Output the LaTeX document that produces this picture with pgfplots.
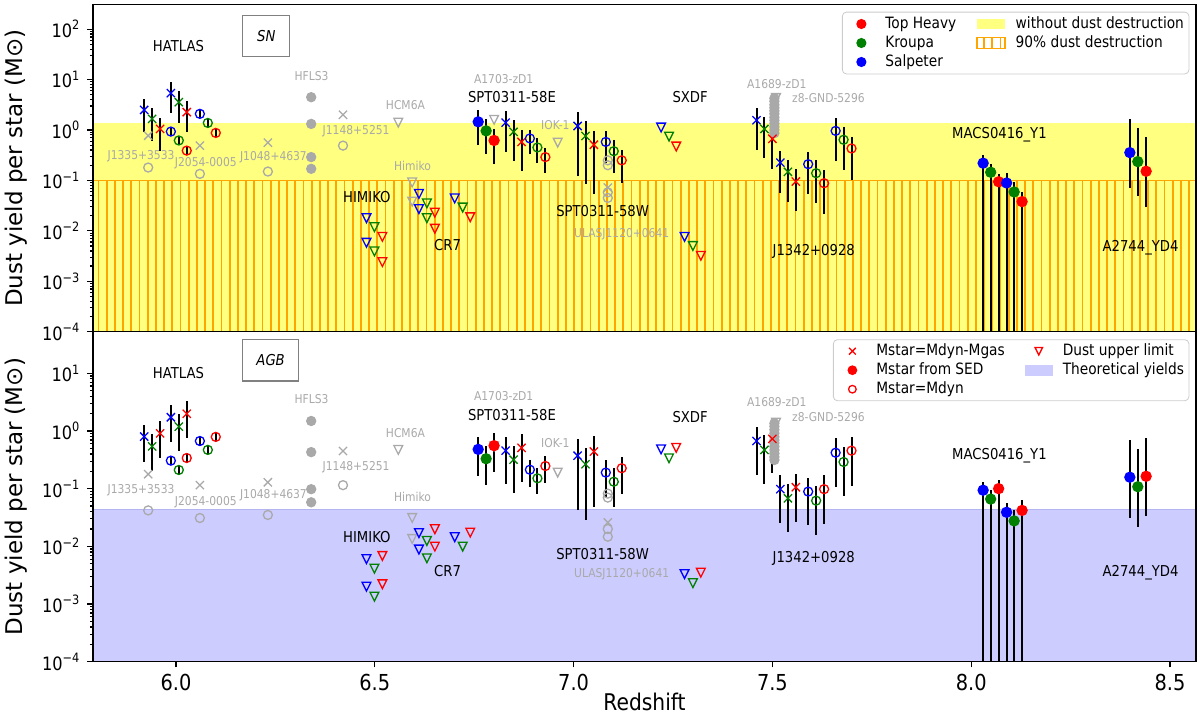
\documentclass[border=0pt]{standalone}
\usepackage{fontspec}
\setmainfont{DejaVu Sans}[FakeStretch=0.88]
\newfontfamily\ylfont{DejaVu Sans}
\usepackage{pgfplots}
\usepackage{pgfplotstable}
\pgfplotsset{compat=1.18}
\usetikzlibrary{patterns.meta}

\definecolor{mplgreen}{HTML}{008000}
\definecolor{mplgray}{HTML}{A9A9A9}
\definecolor{fillyellow}{HTML}{FFFF80}
\definecolor{hatchorange}{HTML}{FFA500}
\definecolor{theoblue}{HTML}{CCCCFF}
\definecolor{theoedge}{HTML}{B4B4F2}

% downward open triangle, like matplotlib 'v'
\pgfdeclareplotmark{tridown}{%
  \pgfpathmoveto{\pgfqpoint{0pt}{-\pgfplotmarksize}}%
  \pgfpathlineto{\pgfqpoint{\pgfplotmarksize}{\pgfplotmarksize}}%
  \pgfpathlineto{\pgfqpoint{-\pgfplotmarksize}{\pgfplotmarksize}}%
  \pgfpathclose\pgfusepathqstroke}

\tikzset{
  hatchy/.style={pattern={Lines[angle=90,distance=4.1pt,line width=0.9pt]}, pattern color=hatchorange},
  dlab/.style={font=\fontsize{7.5}{9}\selectfont, inner sep=0pt},
  dglab/.style={font=\fontsize{6.1}{7}\selectfont, text=mplgray, inner sep=0pt},
}
\newcommand\legmark[1]{\path[draw=none, fill=none] (0pt,-2.7pt) rectangle (14pt,2.7pt); \draw[only marks, mark options={line width=0.65pt}, #1] plot coordinates {(7pt,0pt)};}
\newcommand\legpatch[1]{\path[sharp corners, draw=none, #1] (0pt,-2.65pt) rectangle (14pt,2.65pt);}
\newcommand\yfont{\fontsize{9.2}{10}\selectfont}

\pgfplotsset{
  dustpts/.style={scatter, only marks, scatter src=explicit symbolic,
    mark options={line width=0.65pt},
    scatter/classes={
      bx={mark=x,blue,mark size=2.9pt}, gx={mark=x,mplgreen,mark size=2.9pt}, rx={mark=x,red,mark size=2.9pt},
      bf={mark=*,blue,mark size=2.5pt}, gf={mark=*,mplgreen,mark size=2.5pt}, rf={mark=*,red,mark size=2.5pt},
      bo={mark=o,blue,mark size=2.25pt}, go={mark=o,mplgreen,mark size=2.25pt}, ro={mark=o,red,mark size=2.25pt},
      bt={mark=tridown,blue,mark size=2.2pt}, gt={mark=tridown,mplgreen,mark size=2.2pt}, rt={mark=tridown,red,mark size=2.2pt},
      kx={mark=x,mplgray,mark size=2.9pt}, ko={mark=o,mplgray,mark size=2.25pt},
      kf={mark=*,mplgray,mark size=2.25pt}, kt={mark=tridown,mplgray,mark size=2.2pt}},
    error bars/y dir=both, error bars/y explicit, error bars/error mark=none,
    error bars/error bar style={black, line width=1pt}},
}

% top panel (SN): x y lo hi class
\pgfplotstableread{
x y lo hi c
5.920 2.5 0.9 4.1 bx
5.940 1.66 0.61 2.7 gx
5.960 1.05 0.385 1.76 rx
5.987 5.37 2.15 8.9 bx
6.007 3.56 1.4 5.96 gx
6.027 2.26 0.9 3.78 rx
5.987 0.93 0.775 1.116 bo
6.007 0.62 0.517 0.744 go
6.027 0.39 0.325 0.468 ro
6.060 2.09 1.74 2.51 bo
6.080 1.38 1.15 1.66 go
6.100 0.875 0.73 1.05 ro
6.479 0.0178 0.0178 0.0178 bt
6.499 0.0118 0.0118 0.0118 gt
6.519 0.0076 0.0076 0.0076 rt
6.479 0.0058 0.0058 0.0058 bt
6.499 0.0039 0.0039 0.0039 gt
6.519 0.0024 0.0024 0.0024 rt
6.611 0.054 0.054 0.054 bt
6.631 0.035 0.035 0.035 gt
6.651 0.023 0.023 0.023 rt
6.611 0.027 0.027 0.027 bt
6.631 0.0178 0.0178 0.0178 gt
6.651 0.011 0.011 0.011 rt
6.701 0.044 0.044 0.044 bt
6.721 0.029 0.029 0.029 gt
6.740 0.0186 0.0186 0.0186 rt
6.760 1.45 0.5 2.5 bf
6.780 0.96 0.33 1.66 gf
6.800 0.62 0.21 1.04 rf
6.829 1.40 0.36 2.4 bx
6.849 0.92 0.24 1.6 gx
6.869 0.58 0.154 1.0 rx
6.890 0.68 0.34 1.0 bo
6.909 0.45 0.22 0.69 go
6.929 0.29 0.14 0.44 ro
7.010 1.2 0.125 2.25 bx
7.030 0.76 0.084 1.5 gx
7.051 0.51 0.053 0.96 rx
7.081 0.58 0.22 0.96 bo
7.101 0.38 0.14 0.64 go
7.121 0.25 0.09 0.40 ro
7.220 1.12 1.12 1.12 bt
7.240 0.74 0.74 0.74 gt
7.258 0.47 0.47 0.47 rt
7.279 0.0076 0.0076 0.0076 bt
7.300 0.005 0.005 0.005 gt
7.320 0.0032 0.0032 0.0032 rt
7.460 1.56 0.40 2.7 bx
7.480 1.05 0.275 1.85 gx
7.500 0.67 0.17 1.2 rx
7.520 0.225 0.057 0.385 bx
7.539 0.148 0.037 0.255 gx
7.559 0.095 0.0244 0.166 rx
7.590 0.21 0.053 0.37 bo
7.610 0.139 0.035 0.25 go
7.630 0.088 0.022 0.16 ro
7.659 0.96 0.24 1.76 bo
7.679 0.64 0.16 1.17 go
7.699 0.43 0.10 0.74 ro
8.030 0.22 1e-6 0.32 bf
8.049 0.145 1e-6 0.21 gf
8.069 0.094 1e-6 0.135 rf
8.089 0.089 1e-6 0.139 bf
8.108 0.059 1e-6 0.093 gf
8.128 0.038 1e-6 0.059 rf
8.399 0.356 0.072 1.66 bf
8.419 0.236 0.048 1.12 gf
8.440 0.152 0.030 0.72 rf
}\topdata

% top panel, literature sources in grey
\pgfplotstableread{
x y c
5.930 0.77 kx
5.930 0.18 ko
6.060 0.49 kx
6.060 0.135 ko
6.231 0.56 kx
6.231 0.15 ko
6.340 4.47 kf
6.340 1.32 kf
6.340 0.29 kf
6.340 0.17 kf
6.420 2.0 kx
6.420 0.49 ko
6.559 1.40 kt
6.594 0.091 kt
6.594 0.038 kt
6.800 1.59 kt
6.960 0.56 kt
7.086 0.25 ko
7.086 0.20 ko
7.086 0.072 kx
7.086 0.058 ko
7.086 0.045 ko
7.505 0.865 kf
7.505 1.0 kf
7.505 1.156 kf
7.505 1.34 kf
7.505 1.55 kf
7.505 1.78 kf
7.505 2.09 kf
7.505 2.4 kf
7.505 2.75 kf
7.505 3.16 kf
7.505 3.72 kf
7.505 4.27 kf
7.509 4.3 kt
}\topgray

% bottom panel (AGB)
\pgfplotstableread{
x y lo hi c
5.920 0.80 0.29 1.27 bx
5.940 0.54 0.20 0.88 gx
5.960 0.91 0.34 1.49 rx
5.987 1.73 0.65 2.79 bx
6.007 1.19 0.456 1.95 gx
6.027 1.99 0.765 3.27 rx
5.987 0.306 0.255 0.367 bo
6.007 0.211 0.176 0.253 go
6.027 0.34 0.283 0.408 ro
6.060 0.67 0.558 0.804 bo
6.080 0.47 0.392 0.564 go
6.100 0.79 0.658 0.948 ro
6.479 0.0060 0.0060 0.0060 bt
6.499 0.0041 0.0041 0.0041 gt
6.519 0.0068 0.0068 0.0068 rt
6.479 0.0020 0.0020 0.0020 bt
6.499 0.00134 0.00134 0.00134 gt
6.519 0.0022 0.0022 0.0022 rt
6.611 0.017 0.017 0.017 bt
6.631 0.0124 0.0124 0.0124 gt
6.651 0.0198 0.0198 0.0198 rt
6.611 0.0088 0.0088 0.0088 bt
6.631 0.0062 0.0062 0.0062 gt
6.651 0.0099 0.0099 0.0099 rt
6.701 0.0144 0.0144 0.0144 bt
6.721 0.0099 0.0099 0.0099 gt
6.740 0.0173 0.0173 0.0173 rt
6.760 0.48 0.166 0.80 bf
6.780 0.33 0.116 0.556 gf
6.800 0.556 0.197 0.91 rf
6.829 0.456 0.121 0.80 bx
6.849 0.318 0.085 0.556 gx
6.869 0.51 0.132 0.887 rx
6.890 0.213 0.106 0.32 bo
6.909 0.151 0.08 0.225 go
6.929 0.247 0.127 0.37 ro
7.010 0.373 0.042 0.73 bx
7.030 0.265 0.029 0.50 gx
7.051 0.44 0.048 0.82 rx
7.081 0.19 0.071 0.32 bo
7.101 0.132 0.049 0.226 go
7.121 0.226 0.081 0.36 ro
7.220 0.48 0.48 0.48 bt
7.240 0.336 0.336 0.336 gt
7.258 0.51 0.51 0.51 rt
7.279 0.0033 0.0033 0.0033 bt
7.300 0.0023 0.0023 0.0023 gt
7.320 0.0035 0.0035 0.0035 rt
7.460 0.67 0.17 1.16 bx
7.480 0.47 0.12 0.84 gx
7.500 0.73 0.185 1.27 rx
7.520 0.098 0.025 0.173 bx
7.539 0.068 0.0175 0.12 gx
7.559 0.106 0.026 0.18 rx
7.590 0.089 0.023 0.155 bo
7.610 0.062 0.016 0.111 go
7.630 0.098 0.024 0.17 ro
7.659 0.42 0.108 0.76 bo
7.679 0.29 0.076 0.53 go
7.699 0.456 0.113 0.79 ro
8.030 0.094 1e-6 0.133 bf
8.049 0.066 1e-6 0.093 gf
8.069 0.10 1e-6 0.143 rf
8.089 0.039 1e-6 0.057 bf
8.108 0.0276 1e-6 0.042 gf
8.128 0.042 1e-6 0.063 rf
8.399 0.158 0.031 0.70 bf
8.419 0.108 0.022 0.49 gf
8.440 0.164 0.034 0.75 rf
}\botdata

\pgfplotstableread{
x y c
5.930 0.178 kx
5.930 0.042 ko
6.060 0.115 kx
6.060 0.031 ko
6.231 0.129 kx
6.231 0.035 ko
6.340 1.49 kf
6.340 0.43 kf
6.340 0.098 kf
6.340 0.058 kf
6.420 0.45 kx
6.420 0.115 ko
6.559 0.47 kt
6.594 0.031 kt
6.594 0.0134 kt
6.800 0.54 kt
6.960 0.19 kt
7.086 0.082 ko
7.086 0.070 ko
7.086 0.026 kx
7.086 0.020 ko
7.086 0.0147 ko
7.505 0.314 kf
7.505 0.355 kf
7.505 0.407 kf
7.505 0.468 kf
7.505 0.537 kf
7.505 0.617 kf
7.505 0.692 kf
7.505 0.794 kf
7.505 0.912 kf
7.505 1.047 kf
7.505 1.202 kf
7.505 1.36 kf
7.509 1.39 kt
}\botgray

\begin{document}
\begin{tikzpicture}
\path[use as bounding box] (-46.5pt,-26.15pt) rectangle (553.5pt,330.85pt);

% ---------------- top: SN ----------------
\begin{axis}[at={(0,165pt)}, anchor=south west,
  scale only axis, width=551.5pt, height=163.5pt,
  xmin=5.7912, xmax=8.5654, ymode=log, ymin=1e-4, ymax=305,
  tick align=outside, xtick pos=bottom, ytick pos=left, axis on top,
  axis line style={line width=0.7pt},
  major tick length=2.8pt, minor tick length=1.6pt, tick style={line width=0.6pt, black},
  xtick=\empty,
  ytick={1e-4,1e-3,1e-2,1e-1,1,10,100},
  yticklabels={10\textsuperscript{−4},10\textsuperscript{−3},10\textsuperscript{−2},10\textsuperscript{−1},10\textsuperscript{0},10\textsuperscript{1},10\textsuperscript{2}},
  yticklabel style={font=\yfont},
  ylabel={{\ylfont\fontsize{11.5}{12}\selectfont Dust yield per star (M⊙)}},
  ylabel style={at={(axis description cs:-0.0698,0.5)}, anchor=center},
  legend columns=2, legend cell align=left,
  legend style={at={(1,1)}, anchor=north east, xshift=-3.35pt, yshift=-3.5pt,
    draw=black!20, rounded corners=2pt, fill=white,
    font=\fontsize{7.8}{9}\selectfont, inner xsep=2.5pt, inner ysep=1.2pt,
    row sep=0pt, column sep=5pt,
    /tikz/every even column/.append style={column sep=10pt},
    nodes={inner xsep=0pt, inner ysep=0.5pt, text height=6.5pt, text depth=2pt}}]
\addplot[draw=none, fill=fillyellow, forget plot] coordinates {(5.7,1e-5) (8.7,1e-5) (8.7,1.37) (5.7,1.37)};
\addplot[draw=none, hatchy, forget plot] coordinates {(5.7,1e-5) (8.7,1e-5) (8.7,0.1) (5.7,0.1)};
\addplot[hatchorange, line width=0.7pt, forget plot] coordinates {(5.7,0.1) (8.7,0.1)};
\addplot[dustpts, forget plot] table[x=x, y=y, meta=c] {\topgray};
\addplot[dustpts, forget plot] table[x=x, y=y, meta=c,
  y error plus expr=\thisrow{hi}-\thisrow{y}, y error minus expr=\thisrow{y}-\thisrow{lo}] {\topdata};

\node[dlab] at (axis cs:6.006,45.2) {HATLAS};
\node[draw=gray, line width=0.6pt, fill=white, minimum width=23.5pt, minimum height=20.5pt, inner sep=0pt,
  font=\fontsize{7.5}{9}\selectfont\itshape] at (axis cs:6.227,73) {SN};
\node[dglab] at (axis cs:6.341,12.0) {HFLS3};
\node[dglab] at (axis cs:5.912,0.296) {J1335+3533};
\node[dglab] at (axis cs:6.075,0.219) {J2054-0005};
\node[dglab] at (axis cs:6.245,0.289) {J1048+4637};
\node[dglab] at (axis cs:6.453,0.96) {J1148+5251};
\node[dlab] at (axis cs:6.480,0.0477) {HIMIKO};
\node[dglab] at (axis cs:6.577,3.1) {HCM6A};
\node[dglab] at (axis cs:6.595,0.191) {Himiko};
\node[dlab] at (axis cs:6.683,0.0052) {CR7};
\node[dglab] at (axis cs:6.824,10.2) {A1703-zD1};
\node[dlab] at (axis cs:6.845,4.6) {SPT0311-58E};
\node[dglab] at (axis cs:6.954,1.245) {IOK-1};
\node[dlab] at (axis cs:7.073,0.0251) {SPT0311-58W};
\node[dglab] at (axis cs:7.121,0.0085) {ULASJ1120+0641};
\node[dlab] at (axis cs:7.293,4.4) {SXDF};
\node[dglab] at (axis cs:7.511,8.1) {A1689-zD1};
\node[dglab] at (axis cs:7.641,4.2) {z8-GND-5296};
\node[dlab] at (axis cs:7.604,0.0039) {J1342+0928};
\node[dlab] at (axis cs:8.071,0.80) {MACS0416\_Y1};
\node[dlab] at (axis cs:8.426,0.00464) {A2744\_YD4};

\addlegendimage{legend image code/.code={\legmark{red, mark=*, mark size=2.2pt}}}
\addlegendentry{Top Heavy}
\addlegendimage{legend image code/.code={\legpatch{fill=fillyellow}}}
\addlegendentry{without dust destruction}
\addlegendimage{legend image code/.code={\legmark{mplgreen, mark=*, mark size=2.2pt}}}
\addlegendentry{Kroupa}
\addlegendimage{legend image code/.code={\legpatch{draw=hatchorange, line width=0.7pt, hatchy}}}
\addlegendentry{90\% dust destruction}
\addlegendimage{legend image code/.code={\legmark{blue, mark=*, mark size=2.2pt}}}
\addlegendentry{Salpeter}
\end{axis}

% ---------------- bottom: AGB ----------------
\begin{axis}[at={(0,0)}, anchor=south west,
  scale only axis, width=551.5pt, height=165pt,
  xmin=5.7912, xmax=8.5654, ymode=log, ymin=1e-4, ymax=52.6,
  tick align=outside, xtick pos=bottom, ytick pos=left, axis on top,
  axis line style={line width=0.7pt},
  major tick length=2.8pt, minor tick length=1.6pt, tick style={line width=0.6pt, black},
  xtick={6,6.5,7,7.5,8,8.5}, xticklabels={6.0,6.5,7.0,7.5,8.0,8.5},
  xticklabel style={font=\fontsize{11}{12}\selectfont},
  ytick={1e-4,1e-3,1e-2,1e-1,1,10},
  yticklabels={10\textsuperscript{−4},10\textsuperscript{−3},10\textsuperscript{−2},10\textsuperscript{−1},10\textsuperscript{0},10\textsuperscript{1}},
  yticklabel style={font=\yfont},
  ylabel={{\ylfont\fontsize{11.5}{12}\selectfont Dust yield per star (M⊙)}},
  ylabel style={at={(axis description cs:-0.0698,0.5)}, anchor=center},
  xlabel={Redshift},
  xlabel style={font=\fontsize{11.5}{12}\selectfont, at={(axis description cs:0.5,0)}, anchor=base, yshift=-24.5pt},
  legend columns=2, legend cell align=left,
  legend style={at={(1,1)}, anchor=north east, xshift=-3.35pt, yshift=-3.8pt,
    draw=black!20, rounded corners=2pt, fill=white,
    font=\fontsize{7.8}{9}\selectfont, inner xsep=2.5pt, inner ysep=1pt,
    row sep=0pt, column sep=5pt,
    /tikz/every even column/.append style={column sep=10pt},
    nodes={inner xsep=0pt, inner ysep=0.5pt, text height=6.5pt, text depth=2pt}}]
\addplot[draw=none, fill=theoblue, forget plot] coordinates {(5.7,1e-5) (8.7,1e-5) (8.7,0.043) (5.7,0.043)};
\addplot[theoedge, line width=0.6pt, forget plot] coordinates {(5.7,0.043) (8.7,0.043)};
\addplot[dustpts, forget plot] table[x=x, y=y, meta=c] {\botgray};
\addplot[dustpts, forget plot] table[x=x, y=y, meta=c,
  y error plus expr=\thisrow{hi}-\thisrow{y}, y error minus expr=\thisrow{y}-\thisrow{lo}] {\botdata};

\node[dlab] at (axis cs:6.006,10.2) {HATLAS};
\node[draw=gray, line width=0.6pt, fill=white, minimum width=28.2pt, minimum height=20.8pt, inner sep=0pt,
  font=\fontsize{7.5}{9}\selectfont\itshape] at (axis cs:6.238,16.9) {AGB};
\node[dglab] at (axis cs:6.341,3.63) {HFLS3};
\node[dglab] at (axis cs:5.912,0.0938) {J1335+3533};
\node[dglab] at (axis cs:6.075,0.0588) {J2054-0005};
\node[dglab] at (axis cs:6.245,0.0778) {J1048+4637};
\node[dglab] at (axis cs:6.453,0.231) {J1148+5251};
\node[dlab] at (axis cs:6.480,0.0147) {HIMIKO};
\node[dglab] at (axis cs:6.577,0.912) {HCM6A};
\node[dglab] at (axis cs:6.595,0.0718) {Himiko};
\node[dlab] at (axis cs:6.683,0.00375) {CR7};
\node[dglab] at (axis cs:6.824,4.09) {A1703-zD1};
\node[dlab] at (axis cs:6.845,1.89) {SPT0311-58E};
\node[dglab] at (axis cs:6.954,0.612) {IOK-1};
\node[dlab] at (axis cs:7.073,0.0073) {SPT0311-58W};
\node[dglab] at (axis cs:7.121,0.00329) {ULASJ1120+0641};
\node[dlab] at (axis cs:7.293,1.77) {SXDF};
\node[dglab] at (axis cs:7.511,3.14) {A1689-zD1};
\node[dglab] at (axis cs:7.641,1.73) {z8-GND-5296};
\node[dlab] at (axis cs:7.604,0.00612) {J1342+0928};
\node[dlab] at (axis cs:8.071,0.369) {MACS0416\_Y1};
\node[dlab] at (axis cs:8.426,0.0035) {A2744\_YD4};

\addlegendimage{legend image code/.code={\legmark{red, mark=x, mark size=2.4pt}}}
\addlegendentry{Mstar=Mdyn-Mgas}
\addlegendimage{legend image code/.code={\legmark{red, mark=tridown, mark size=1.9pt}}}
\addlegendentry{Dust upper limit}
\addlegendimage{legend image code/.code={\legmark{red, mark=*, mark size=2.1pt}}}
\addlegendentry{Mstar from SED}
\addlegendimage{legend image code/.code={\legpatch{fill=theoblue}}}
\addlegendentry{Theoretical yields}
\addlegendimage{legend image code/.code={\legmark{red, mark=o, mark size=1.9pt}}}
\addlegendentry{Mstar=Mdyn}
\end{axis}
\end{tikzpicture}
\end{document}
